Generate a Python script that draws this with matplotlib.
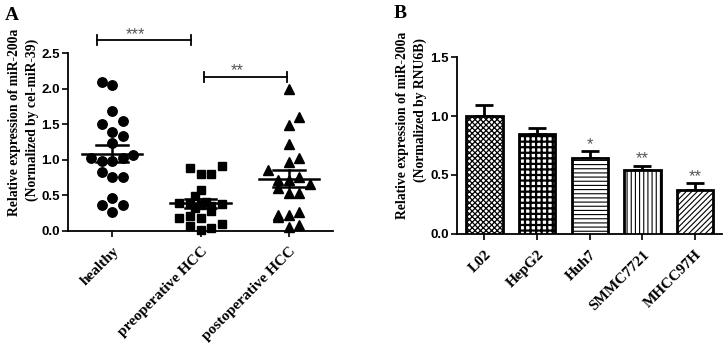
import numpy as np
import matplotlib
matplotlib.use('Agg')
import matplotlib.pyplot as plt

# ---- panel A data: (column slot, value) ----
groups = ['healthy', 'preoperative HCC', 'postoperative HCC']

healthy_vals = [2.09, 2.05, 1.68, 1.51, 1.54, 1.39, 1.34, 1.23, 1.03, 0.98,
                0.98, 1.03, 1.07, 0.83, 0.76, 0.76, 0.47, 0.37, 0.37, 0.26]
healthy_cols = [-1, 0, 0, -1, 1, 0, 1, 0, -2, -1,
                0, 1, 2, -1, 0, 1, 0, -1, 1, 0]

preop_vals = [0.89, 0.80, 0.80, 0.92, 0.58, 0.49, 0.39, 0.40, 0.36, 0.41, 0.33,
              0.35, 0.38, 0.28, 0.18, 0.21, 0.18, 0.07, 0.10, 0.02, 0.04]
preop_cols = [-1, 0, 1, 2, 0, -0.5, -2, -1, 0, 0.5, -0.5,
              1, 2, 1, -2, -1, 0, -1, 2, 0, 1]

postop_vals = [1.99, 1.60, 1.49, 1.22, 1.03, 0.97, 0.86, 0.72, 0.71, 0.76,
               0.66, 0.60, 0.53, 0.53, 0.22, 0.19, 0.22, 0.26, 0.06, 0.09]
postop_cols = [0, 1, 0, 0, 1, 0, -2, -1, 0, 1,
               2, -1, 0, 1, -1, -1, 0, 1, 0, 1]

# ---- panel B data ----
cells = ['L02', 'HepG2', 'Huh7', 'SMMC7721', 'MHCC97H']
cell_vals = [1.00, 0.85, 0.64, 0.54, 0.37]
cell_err = [0.09, 0.05, 0.06, 0.035, 0.06]
cell_stars = ['', '', '*', '**', '**']

serif = 'Liberation Serif'
sans = 'Liberation Sans'

fig = plt.figure(figsize=(7.26, 3.44), dpi=100)

# ================= panel A =================
axA = fig.add_axes([0.0937, 0.3285, 0.365, 0.517])
step = 0.12
markers = ['o', 's', '^']
msizes = [6.8, 6.0, 6.8]
data = [(healthy_vals, healthy_cols), (preop_vals, preop_cols), (postop_vals, postop_cols)]
for i, (vals, cols) in enumerate(data):
    vals = np.array(vals)
    xs = i + np.array(cols) * step
    axA.plot(xs, vals, ls='none', marker=markers[i], ms=msizes[i], color='black',
             clip_on=False, zorder=3)
    m = vals.mean()
    sem = vals.std(ddof=1) / np.sqrt(len(vals))
    axA.plot([i - 0.34, i + 0.34], [m, m], color='black', lw=1.8, zorder=4)
    axA.plot([i - 0.18, i + 0.18], [m + sem, m + sem], color='black', lw=1.8, zorder=4)
    axA.plot([i - 0.18, i + 0.18], [m - sem, m - sem], color='black', lw=1.8, zorder=4)
    axA.plot([i, i], [m - sem, m + sem], color='black', lw=1.8, zorder=4)

axA.set_xlim(-0.5, 2.5)
axA.set_ylim(0, 2.5)
axA.set_yticks([0, 0.5, 1.0, 1.5, 2.0, 2.5])
axA.set_yticklabels(['0.0', '0.5', '1.0', '1.5', '2.0', '2.5'],
                    fontfamily=sans, fontweight='bold', fontsize=9.5)
axA.set_xticks(range(3))
axA.set_xticklabels(groups, rotation=45, ha='right', rotation_mode='anchor',
                    fontfamily=serif, fontweight='bold', fontsize=11)
for s in ['top', 'right']:
    axA.spines[s].set_visible(False)
for s in ['left', 'bottom']:
    axA.spines[s].set_linewidth(1.3)
axA.tick_params(width=1.2, length=4, pad=2)
axA.tick_params(axis='x', pad=6)

# significance brackets
def bracket(ax, x0, x1, y, h, txt, ty):
    ax.plot([x0, x1], [y, y], color='black', lw=1.3, clip_on=False)
    ax.plot([x0, x0], [y - h, y + h], color='black', lw=1.3, clip_on=False)
    ax.plot([x1, x1], [y - h, y + h], color='black', lw=1.3, clip_on=False)
    ax.text((x0 + x1) / 2 - 0.1, ty, txt, ha='center', va='center', color='#555555',
            fontfamily=sans, fontsize=12, clip_on=False)

bracket(axA, -0.17, 0.89, 2.68, 0.07, '***', 2.76)
bracket(axA, 1.04, 1.98, 2.16, 0.07, '**', 2.25)

fig.text(15 / 726, 1 - 122 / 344, 'Relative expression of miR-200a', rotation=90,
         ha='center', va='center', fontfamily=serif, fontweight='bold', fontsize=9.8)
fig.text(32 / 726, 1 - 120 / 344, '(Normalized by cel-miR-39)', rotation=90,
         ha='center', va='center', fontfamily=serif, fontweight='bold', fontsize=9.8)
fig.text(12 / 726, 1 - 16 / 344, 'A', ha='center', va='center',
         fontfamily=serif, fontweight='bold', fontsize=14)

# ================= panel B =================
axB = fig.add_axes([0.6295, 0.320, 0.365, 0.514])
xb = np.arange(len(cells))
hatches = ['xxxxxx', '+++', '----', '||||', '//////']
hatch_lw = [0.9, 1.6, 0.8, 0.8, 0.8]
bars = axB.bar(xb, cell_vals, width=0.69, color='white', edgecolor='black',
               linewidth=2.0, zorder=3)
for b, h, hl in zip(bars, hatches, hatch_lw):
    b.set_hatch(h)
    if hasattr(b, 'set_hatch_linewidth'):
        b.set_hatch_linewidth(hl)
axB.errorbar(xb, cell_vals, yerr=[np.zeros(len(cells)), cell_err], fmt='none',
             ecolor='black', elinewidth=2.0, capsize=6.5, capthick=2.0, zorder=2)
for x, v, e, s in zip(xb, cell_vals, cell_err, cell_stars):
    if s:
        axB.text(x, v + e + 0.06, s, ha='center', va='center', color='#555555',
                 fontfamily=sans, fontsize=12)

axB.set_xlim(-0.52, 4.51)
axB.set_ylim(0, 1.5)
axB.set_yticks([0, 0.5, 1.0, 1.5])
axB.set_yticklabels(['0.0', '0.5', '1.0', '1.5'],
                    fontfamily=sans, fontweight='bold', fontsize=9.5)
axB.set_xticks(xb)
axB.set_xticklabels(cells, rotation=45, ha='right', rotation_mode='anchor',
                    fontfamily=serif, fontweight='bold', fontsize=11)
for s in ['top', 'right']:
    axB.spines[s].set_visible(False)
for s in ['left', 'bottom']:
    axB.spines[s].set_linewidth(1.3)
axB.tick_params(width=1.2, length=4, pad=2)
axB.tick_params(axis='x', pad=6)

fig.text(402 / 726, 1 - 125 / 344, 'Relative expression of miR-200a', rotation=90,
         ha='center', va='center', fontfamily=serif, fontweight='bold', fontsize=9.8)
fig.text(420 / 726, 1 - 110 / 344, '(Normalized by RNU6B)', rotation=90,
         ha='center', va='center', fontfamily=serif, fontweight='bold', fontsize=9.8)
fig.text(400 / 726, 1 - 14 / 344, 'B', ha='center', va='center',
         fontfamily=serif, fontweight='bold', fontsize=14)

fig.savefig('out.png', dpi=100)
